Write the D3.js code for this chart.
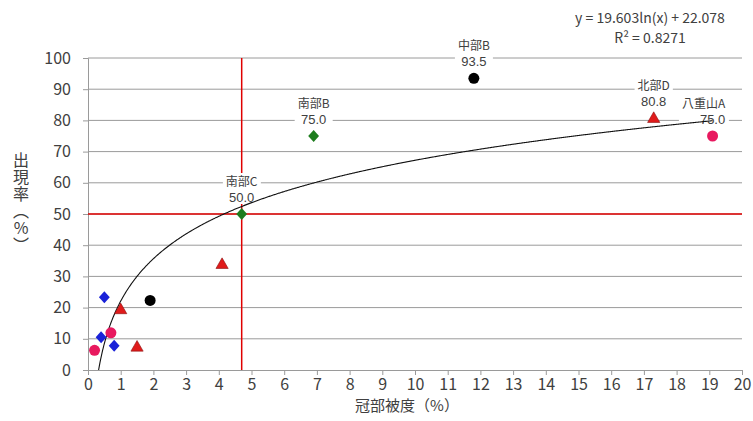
<!DOCTYPE html>
<html>
<head>
<meta charset="utf-8">
<script src="https://cdn.jsdelivr.net/npm/d3@7"></script>
<style>
  body { margin: 0; background: #fff; }
  text { font-family: "Noto Sans CJK JP", "Noto Sans", sans-serif; fill: #404040; }
</style>
</head>
<body>
<script>
// series, one array per axis
var pinkX = [0.2, 0.7, 19.1],      pinkY = [6.3, 11.9, 75.0];
var blackX = [1.9, 11.8],          blackY = [22.3, 93.5];
var blueX = [0.5, 0.4, 0.8],       blueY = [23.3, 10.5, 7.8];
var redX = [1.0, 1.5, 4.1, 17.3],  redY = [19.5, 7.5, 34.0, 80.8];
var greenX = [6.9, 4.7],           greenY = [75.0, 50.0];

var labelNames = ["中部B", "南部B", "南部C", "北部D", "八重山A"];
var labelX = [11.8, 6.9, 4.7, 17.3, 19.1];
var labelY = [93.5, 75.0, 50.0, 80.8, 75.0];

var trendA = 19.603, trendB = 22.078, trendR2 = 0.8271;
var refX = 4.7, refY = 50;

var xTicks = d3.range(0, 21, 1);
var yTicks = d3.range(0, 101, 10);

var width = 753,
    height = 421;

var svg = d3.select("body")
            .append("svg")
            .attr("width", width)
            .attr("height", height);

var x = d3.scaleLinear().domain([0, 20]).range([88, 742]);
var y = d3.scaleLinear().domain([0, 100]).range([370, 58]);

// grid
svg.append("g")
   .selectAll("line")
   .data(yTicks.filter(d => d > 0))
   .enter()
   .append("line")
      .attr("x1", x(0))
      .attr("x2", x(20))
      .attr("y1", d => y(d))
      .attr("y2", d => y(d))
      .attr("stroke", "#9a9a9a")
      .attr("stroke-width", 1);

// axes
var xAxis = svg.append("g")
   .attr("transform", "translate(0," + y(0) + ")")
   .call(d3.axisBottom(x).tickValues(xTicks).tickSize(5).tickPadding(4).tickFormat(d3.format("d")));
var yAxis = svg.append("g")
   .attr("transform", "translate(" + x(0) + ",0)")
   .call(d3.axisLeft(y).tickValues(yTicks).tickSize(5).tickPadding(12).tickFormat(d3.format("d")));

[xAxis, yAxis].forEach(a => {
  a.select(".domain").attr("stroke", "#9a9a9a");
  a.selectAll(".tick line").attr("stroke", "#9a9a9a");
  a.selectAll(".tick text")
   .style("font-family", "'Noto Sans CJK JP', sans-serif")
   .style("font-size", "16px")
   .attr("fill", "#404040");
});

// reference lines
svg.append("line")
   .attr("x1", x(0)).attr("x2", x(20))
   .attr("y1", y(refY)).attr("y2", y(refY))
   .attr("stroke", "#e00000").attr("stroke-width", 1.5);
svg.append("line")
   .attr("x1", x(refX)).attr("x2", x(refX))
   .attr("y1", y(0)).attr("y2", y(100))
   .attr("stroke", "#e00000").attr("stroke-width", 1.5);

// data labels with white backing
var labels = svg.append("g");
labelNames.forEach(function(name, i) {
  var cx = x(labelX[i]), cy = y(labelY[i]);
  var nx = cx, vx = cx;
  if (name == "八重山A") { nx = cx - 9; }
  var g = labels.append("g");
  var t1 = g.append("text").attr("x", nx).attr("y", cy - 28)
            .attr("text-anchor", "middle").style("font-size", "12px").text(name);
  var t2 = g.append("text").attr("x", vx).attr("y", cy - 12)
            .attr("text-anchor", "middle")
            .style("font-family", "'Liberation Sans', sans-serif")
            .style("font-size", "13px").text(labelY[i].toFixed(1));
  var b1 = t1.node().getBBox(), b2 = t2.node().getBBox();
  var bx = Math.min(b1.x, b2.x) - 3, bw = Math.max(b1.x + b1.width, b2.x + b2.width) + 3 - bx;
  g.insert("rect", "text")
   .attr("x", bx).attr("y", b1.y + 1).attr("width", bw).attr("height", b2.y + b2.height - b1.y - 2)
   .attr("fill", "#fff");
});

// trendline
var x0 = Math.exp(-trendB / trendA);
var trendPts = d3.range(x0, 19.1, 0.02).concat([19.1]).map(d => [d, trendA * Math.log(d) + trendB]);
svg.append("path")
   .datum(trendPts)
   .attr("fill", "none")
   .attr("stroke", "#111")
   .attr("stroke-width", 1.1)
   .attr("d", d3.line().x(d => x(d[0])).y(d => y(d[1])));

// markers
function pairs(xs, ys) { return xs.map((d, i) => [d, ys[i]]); }

svg.append("g").selectAll("circle")
   .data(pairs(pinkX, pinkY)).enter().append("circle")
      .attr("cx", d => x(d[0])).attr("cy", d => y(d[1])).attr("r", 5.5)
      .attr("fill", "#e8195f");
svg.append("g").selectAll("circle")
   .data(pairs(blackX, blackY)).enter().append("circle")
      .attr("cx", d => x(d[0])).attr("cy", d => y(d[1])).attr("r", 5.5)
      .attr("fill", "#000");

var diamond = d3.symbol().type(d3.symbolDiamond2).size(75);
svg.append("g").selectAll("path")
   .data(pairs(blueX, blueY)).enter().append("path")
      .attr("d", diamond)
      .attr("transform", d => "translate(" + x(d[0]) + "," + y(d[1]) + ") scale(1,1.1)")
      .attr("fill", "#1a22d8");
svg.append("g").selectAll("path")
   .data(pairs(greenX, greenY)).enter().append("path")
      .attr("d", diamond)
      .attr("transform", d => "translate(" + x(d[0]) + "," + y(d[1]) + ") scale(1,1.1)")
      .attr("fill", "#1e7d1e");

var tri = d3.symbol().type(d3.symbolTriangle).size(65);
svg.append("g").selectAll("path")
   .data(pairs(redX, redY)).enter().append("path")
      .attr("d", tri)
      .attr("transform", d => "translate(" + x(d[0]) + "," + (y(d[1]) + 1) + ")")
      .attr("fill", "#e01b1b")
      .attr("stroke", "#8a1010")
      .attr("stroke-width", 0.6);

// equation
svg.append("text").attr("x", 650).attr("y", 23).attr("text-anchor", "middle")
   .style("font-size", "14px").text("y = " + trendA + "ln(x) + " + trendB);
svg.append("text").attr("x", 650).attr("y", 43).attr("text-anchor", "middle")
   .style("font-size", "14px").text("R² = " + trendR2);

// axis titles
svg.append("text").attr("x", x(10) - 8).attr("y", 411).attr("text-anchor", "middle")
   .style("font-size", "15px").text("冠部被度（%）");

svg.append("text")
   .attr("x", 21).attr("y", 152)
   .style("writing-mode", "vertical-rl")
   .style("text-orientation", "upright")
   .style("font-size", "16px")
   .style("letter-spacing", "1px")
   .text("出現率（%）");
</script>
</body>
</html>
